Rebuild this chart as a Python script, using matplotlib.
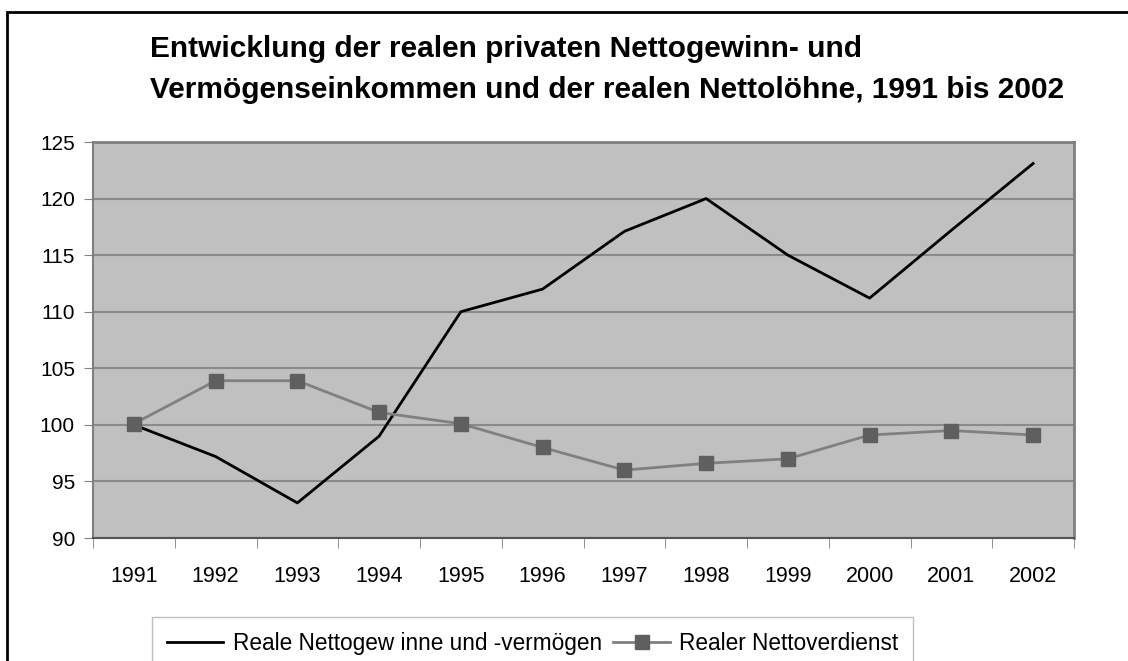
import numpy as np
import matplotlib
matplotlib.use("Agg")
from matplotlib import pyplot as plt
from matplotlib.patches import Rectangle

plt.rcParams['font.family'] = ['Liberation Sans', 'DejaVu Sans']

# Daten
jahre = ['1991', '1992', '1993', '1994', '1995', '1996', '1997', '1998', '1999', '2000', '2001', '2002']
gewinne = [100, 97.2, 93.1, 99.0, 110, 112, 117.1, 120, 115, 111.2, 117.2, 123.1]
verdienst = [100.1, 103.9, 103.9, 101.1, 100.1, 98.0, 96.0, 96.6, 97.0, 99.1, 99.5, 99.1]
titel = ("Entwicklung der realen privaten Nettogewinn- und\n"
         "Vermögenseinkommen und der realen Nettolöhne, 1991 bis 2002")

W, H = 1128, 661
fig = plt.figure(figsize=(W / 100, H / 100), dpi=100)
fig.patch.set_facecolor('white')

# äußerer Rahmen
fig.patches.append(Rectangle((7 / W, -0.05), 1.2, 1 - 12 / H + 0.05, transform=fig.transFigure,
                             fill=False, edgecolor='black', linewidth=2))

ax = fig.add_axes([93 / W, 1 - 538 / H, (1074 - 93) / W, (538 - 142) / H])
ax.set_facecolor('#c0c0c0')

x = np.arange(len(jahre))
ax.plot(x, gewinne, color='black', linewidth=2, label='Reale Nettogew inne und -vermögen', zorder=3)
ax.plot(x, verdienst, color='#808080', linewidth=2, marker='s', markersize=10,
        markerfacecolor='#5f5f5f', markeredgecolor='#5f5f5f', label='Realer Nettoverdienst', zorder=4)

ax.set_xlim(-0.5, len(jahre) - 0.5)
ax.set_ylim(90, 125)
ax.set_yticks(np.arange(90, 126, 5))
ax.yaxis.grid(True, color='#8a8a8a', linewidth=1.5)
ax.set_axisbelow(True)

ax.set_xticks(x)
ax.set_xticklabels(jahre)
ax.set_xticks(np.arange(-0.5, len(jahre), 1), minor=True)
ax.tick_params(axis='x', which='major', length=0, pad=20.5, labelsize=15.5)
ax.tick_params(axis='x', which='minor', length=7, color='#808080')
ax.tick_params(axis='y', length=6.5, color='#808080', labelsize=15, pad=6.5)

for s in ['top', 'right']:
    ax.spines[s].set_color('#808080')
    ax.spines[s].set_linewidth(2)
ax.spines['left'].set_color('#808080')
ax.spines['left'].set_linewidth(1.5)
ax.spines['bottom'].set_color('#555555')
ax.spines['bottom'].set_linewidth(1.5)

fig.text(150 / W, 1 - 35 / H, titel, fontsize=21.5, fontweight='bold', va='top', ha='left',
         linespacing=1.6)

leg = fig.legend(loc='upper left', bbox_to_anchor=(152 / W, 1 - 617 / H), ncol=2,
                 fontsize=16.3, frameon=True, fancybox=False, borderpad=0.65, borderaxespad=0,
                 handlelength=2.5, handletextpad=0.42, columnspacing=0.5)
leg.get_frame().set_edgecolor('#b0b0b0')
leg.get_frame().set_linewidth(1)

fig.savefig('out.png', dpi=100)
